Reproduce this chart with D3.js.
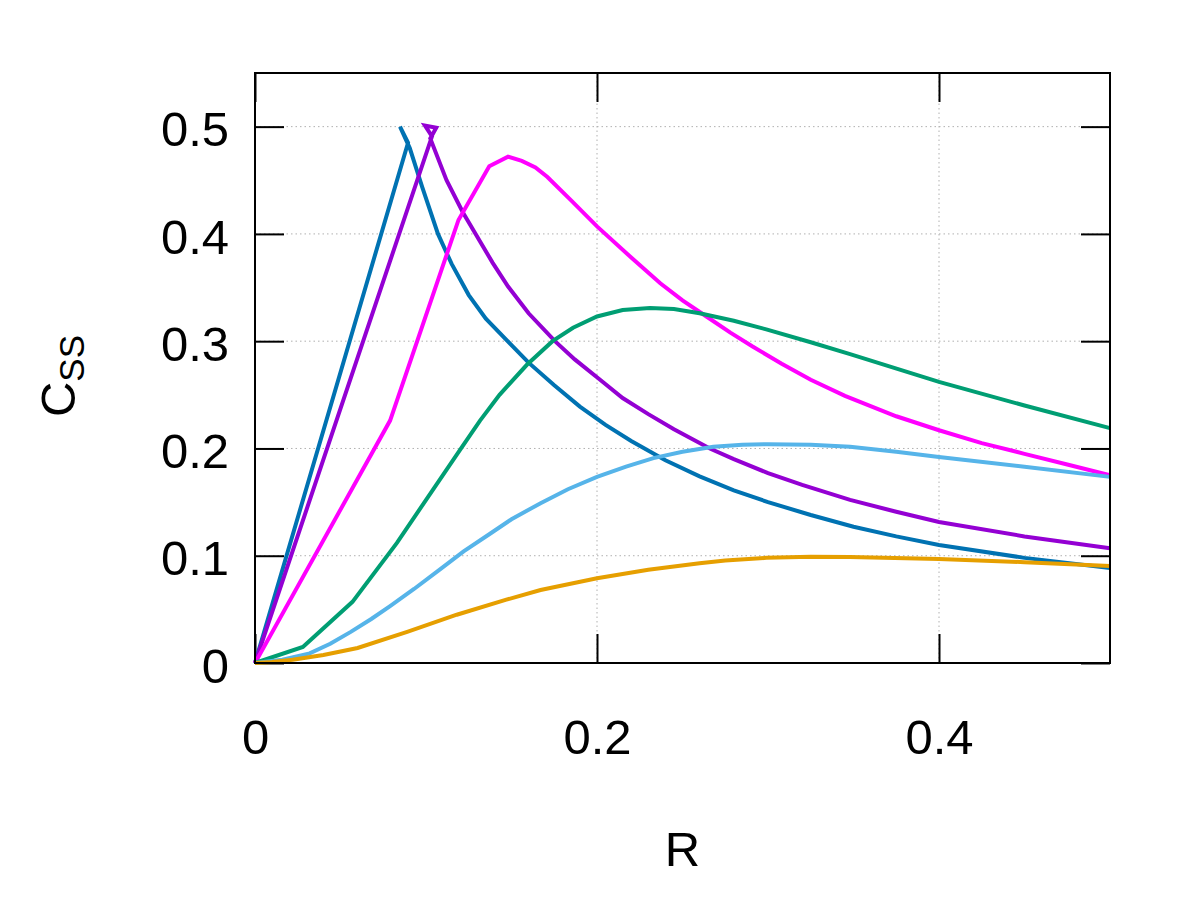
<!DOCTYPE html>
<html>
<head>
<meta charset="utf-8">
<script src="https://cdn.jsdelivr.net/npm/d3@7/dist/d3.min.js"></script>
<style>
  body { margin: 0; background: #fff; }
  svg { display: block; font-family: "Liberation Sans", Arial, sans-serif; }
  .grid line { stroke: #b0b0b0; stroke-width: 1; stroke-dasharray: 1.5,3; }
  .tick line { stroke: #000; stroke-width: 2; }
  .tick text { font-size: 49px; fill: #000; }
  .curve { fill: none; stroke-width: 4; stroke-linejoin: miter; }
</style>
</head>
<body>
<script>
// tick values
const xTicks = [0, 0.2, 0.4];
const yTicks = [0, 0.1, 0.2, 0.3, 0.4, 0.5];
const xTickLabels = ["0", "0.2", "0.4"];
const yTickLabels = ["0", "0.1", "0.2", "0.3", "0.4", "0.5"];

// curves (R, Css)
const blueR = [0, 0.0895, 0.0848, 0.0905, 0.0977, 0.107, 0.115, 0.125, 0.135, 0.149, 0.16, 0.175, 0.19, 0.205, 0.22, 0.24, 0.26, 0.28, 0.3, 0.325, 0.35, 0.375, 0.4, 0.45, 0.5];
const blueC = [0, 0.485, 0.5, 0.48, 0.444, 0.4, 0.372, 0.343, 0.321, 0.298, 0.280, 0.259, 0.239, 0.222, 0.207, 0.189, 0.174, 0.161, 0.150, 0.138, 0.127, 0.118, 0.110, 0.098, 0.0886];

const purpleR = [0, 0.1035, 0.0994, 0.106, 0.1025, 0.112, 0.1216, 0.139, 0.148, 0.16, 0.1754, 0.187, 0.2018, 0.215, 0.23, 0.245, 0.266, 0.28, 0.3, 0.32, 0.348, 0.375, 0.4, 0.45, 0.5];
const purpleC = [0, 0.491, 0.501, 0.499, 0.489, 0.45, 0.42, 0.373, 0.351, 0.326, 0.3, 0.283, 0.264, 0.247, 0.232, 0.218, 0.2, 0.190, 0.177, 0.166, 0.152, 0.141, 0.1315, 0.118, 0.107];

const magentaR = [0, 0.079, 0.119, 0.137, 0.148, 0.156, 0.164, 0.171, 0.185, 0.2, 0.22, 0.237, 0.25, 0.264, 0.278, 0.291, 0.308, 0.325, 0.345, 0.36, 0.375, 0.4, 0.425, 0.45, 0.475, 0.5];
const magentaC = [0, 0.226, 0.413, 0.463, 0.472, 0.468, 0.462, 0.453, 0.431, 0.407, 0.378, 0.354, 0.338, 0.323, 0.308, 0.295, 0.279, 0.264, 0.249, 0.2395, 0.230, 0.217, 0.205, 0.195, 0.185, 0.175];

const greenR = [0, 0.028, 0.057, 0.083, 0.12, 0.1316, 0.143, 0.159, 0.174, 0.186, 0.2, 0.215, 0.231, 0.245, 0.26, 0.28, 0.299, 0.325, 0.348, 0.4, 0.45, 0.5];
const greenC = [0, 0.015, 0.057, 0.112, 0.199, 0.226, 0.25, 0.278, 0.300, 0.3125, 0.323, 0.329, 0.331, 0.330, 0.326, 0.319, 0.311, 0.299, 0.288, 0.262, 0.240, 0.219];

const skyR = [0, 0.016, 0.032, 0.044, 0.056, 0.068, 0.079, 0.093, 0.108, 0.122, 0.137, 0.15, 0.167, 0.183, 0.2, 0.217, 0.233, 0.25, 0.268, 0.285, 0.3, 0.325, 0.348, 0.375, 0.4, 0.45, 0.5];
const skyC = [0, 0.003, 0.009, 0.018, 0.029, 0.041, 0.053, 0.069, 0.087, 0.104, 0.12, 0.134, 0.149, 0.162, 0.1735, 0.183, 0.191, 0.197, 0.2015, 0.2035, 0.204, 0.2035, 0.2015, 0.197, 0.192, 0.183, 0.1735];

const orangeR = [0, 0.01, 0.022, 0.04, 0.06, 0.089, 0.118, 0.147, 0.167, 0.2, 0.23, 0.26, 0.275, 0.299, 0.325, 0.348, 0.4, 0.45, 0.5];
const orangeC = [0, 0.001, 0.003, 0.0075, 0.014, 0.029, 0.045, 0.059, 0.068, 0.079, 0.087, 0.093, 0.0955, 0.098, 0.099, 0.0989, 0.097, 0.094, 0.0905];

const curves = [
  { color: "#0072b2", r: blueR, c: blueC },
  { color: "#9400d3", r: purpleR, c: purpleC },
  { color: "#ff00ff", r: magentaR, c: magentaC },
  { color: "#009e73", r: greenR, c: greenC },
  { color: "#56b4e9", r: skyR, c: skyC },
  { color: "#e69f00", r: orangeR, c: orangeC }
];

const width = 1196, height = 897;
const margin = { top: 73, right: 86, bottom: 234, left: 255 };
const w = width - margin.left - margin.right;
const h = height - margin.top - margin.bottom;
const tickLen = 29;

const svg = d3.select("body").append("svg")
  .attr("width", width)
  .attr("height", height);

const x = d3.scaleLinear().domain([0, 0.5]).range([margin.left, margin.left + w]);
const y = d3.scaleLinear().domain([0, 0.55]).range([margin.top + h, margin.top]);

// dotted grid
const grid = svg.append("g").attr("class", "grid");
grid.selectAll(".gx")
  .data(xTicks.filter(d => d > 0))
  .enter().append("line")
  .attr("x1", d => x(d)).attr("x2", d => x(d))
  .attr("y1", y(0)).attr("y2", y(0.55));
grid.selectAll(".gy")
  .data(yTicks.filter(d => d > 0))
  .enter().append("line")
  .attr("x1", x(0)).attr("x2", x(0.5))
  .attr("y1", d => y(d)).attr("y2", d => y(d));

// axes, ticks pointing inward on all four sides
const xAxisB = d3.axisBottom(x).tickValues(xTicks)
  .tickFormat((d, i) => xTickLabels[i]).tickSizeInner(-tickLen).tickSizeOuter(0).tickPadding(56);
const xAxisT = d3.axisTop(x).tickValues(xTicks).tickFormat("").tickSizeInner(-tickLen).tickSizeOuter(0);
const yAxisL = d3.axisLeft(y).tickValues(yTicks)
  .tickFormat((d, i) => yTickLabels[i]).tickSizeInner(-tickLen).tickSizeOuter(0).tickPadding(26);
const yAxisR = d3.axisRight(y).tickValues(yTicks).tickFormat("").tickSizeInner(-tickLen).tickSizeOuter(0);

const gB = svg.append("g").attr("transform", `translate(0,${y(0)})`).call(xAxisB);
svg.append("g").attr("transform", `translate(0,${y(0.55)})`).call(xAxisT);
const gL = svg.append("g").attr("transform", `translate(${x(0)},0)`).call(yAxisL);
svg.append("g").attr("transform", `translate(${x(0.5)},0)`).call(yAxisR);

svg.selectAll(".domain").remove();
gL.selectAll("text").attr("dy", "0.39em");
svg.selectAll("g").attr("font-family", null).attr("font-size", null);

// curves (gnuplot-style polylines)
const line = d3.line()
  .x(d => x(d[0]))
  .y(d => y(d[1]));

svg.append("g").selectAll("path")
  .data(curves)
  .enter().append("path")
  .attr("class", "curve")
  .attr("stroke", d => d.color)
  .attr("d", d => line(d.r.map((v, i) => [v, d.c[i]])));

// frame
svg.append("rect")
  .attr("x", x(0)).attr("y", y(0.55))
  .attr("width", x(0.5) - x(0)).attr("height", y(0) - y(0.55))
  .attr("fill", "none").attr("stroke", "#000").attr("stroke-width", 2);

// axis titles
svg.append("text")
  .attr("x", (x(0) + x(0.5)) / 2)
  .attr("y", 866)
  .attr("text-anchor", "middle")
  .attr("font-size", 49)
  .text("R");

const yTitle = svg.append("text")
  .attr("transform", `translate(75,${(y(0) + y(0.55)) / 2 + 8})rotate(-90)`)
  .attr("text-anchor", "middle")
  .attr("font-size", 49);
yTitle.append("tspan").text("C");
yTitle.append("tspan").attr("font-size", 35).attr("dy", 9).text("SS");
</script>
</body>
</html>
